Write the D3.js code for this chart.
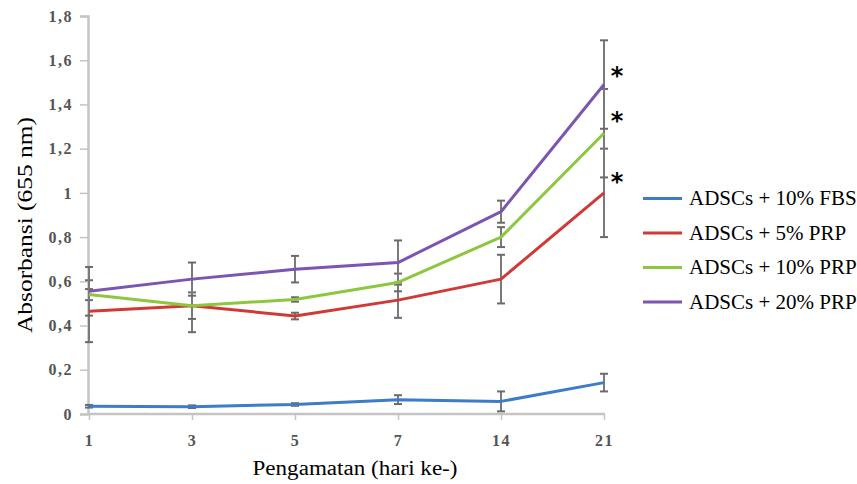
<!DOCTYPE html>
<html lang="id">
<head>
  <meta charset="UTF-8">
  <title>Absorbansi</title>
  <script src="https://d3js.org/d3.v7.min.js"></script>
  <style>
    body { margin: 0; background: #fff; }
    text { font-family: "Liberation Serif", "Times New Roman", serif; }
  </style>
</head>
<body>
  <div id="chart"></div>
  <script>

    // data
    var days = ["1", "3", "5", "7", "14", "21"];
    var yTicks = [0, 0.2, 0.4, 0.6, 0.8, 1, 1.2, 1.4, 1.6, 1.8];
    var yTickLabels = ["0", "0,2", "0,4", "0,6", "0,8", "1", "1,2", "1,4", "1,6", "1,8"];

    var seriesNames = ["ADSCs + 10% FBS", "ADSCs + 5% PRP", "ADSCs + 10% PRP", "ADSCs + 20% PRP"];
    var fbs10 = [0.035, 0.033, 0.043, 0.065, 0.057, 0.142];
    var prp5 = [0.465, 0.49, 0.443, 0.515, 0.61, 1.0];
    var prp10 = [0.54, 0.49, 0.518, 0.595, 0.8, 1.27];
    var prp20 = [0.555, 0.61, 0.655, 0.685, 0.915, 1.49];

    var fbs10Err = [0.006, 0.006, 0.006, 0.02, 0.045, 0.04];
    var prp5Err = [0.14, 0.12, 0.015, 0.08, 0.11, 0.2];
    var prp10Err = [0.025, 0.06, 0.01, 0.04, 0.045, 0.2];
    var prp20Err = [0.11, 0.075, 0.06, 0.1, 0.05, 0.2];

    // asterisks at day 21: which series, and how far above its end point
    var starSeries = [3, 2, 1];
    var starLift = [0.06, 0.08, 0.07];

    var colors = ["#3d7cc9", "#cf3a36", "#8dc63f", "#7b55b0"];

    var values = [fbs10, prp5, prp10, prp20];
    var errors = [fbs10Err, prp5Err, prp10Err, prp20Err];

    var width = 857, height = 484;

    var svg = d3.select("#chart")
      .append("svg")
      .attr("width", width)
      .attr("height", height);

    var x = d3.scalePoint()
      .domain(days)
      .range([89, 604]);

    var y = d3.scaleLinear()
      .domain([0, 1.8])
      .range([414, 16]);

    // Y axis
    var yAxis = svg.append("g")
      .attr("transform", "translate(88,0)")
      .call(d3.axisLeft(y)
        .tickValues(yTicks)
        .tickSize(8)
        .tickPadding(7)
        .tickFormat(function (d, i) { return yTickLabels[i]; }));
    yAxis.select(".domain").attr("stroke", "#c4c4c4").attr("stroke-width", 2.5);
    yAxis.selectAll(".tick line").attr("stroke", "#c4c4c4").attr("stroke-width", 1.5);
    yAxis.selectAll(".tick text")
      .attr("fill", "#555")
      .style("font-size", "16px")
      .style("font-weight", "bold")
      .style("letter-spacing", "1.5px")
      .style("font-family", "Liberation Serif, serif");

    // X axis
    var xAxis = svg.append("g")
      .attr("transform", "translate(0,414)")
      .call(d3.axisBottom(x).tickSize(6).tickPadding(15).tickSizeOuter(0));
    xAxis.select(".domain")
      .attr("d", "M88,0H605")
      .attr("stroke", "#c4c4c4").attr("stroke-width", 2.5);
    xAxis.selectAll(".tick line").attr("stroke", "#c4c4c4").attr("stroke-width", 1.5);
    xAxis.selectAll(".tick text")
      .attr("fill", "#555")
      .style("font-size", "16px")
      .style("font-weight", "bold")
      .style("letter-spacing", "1.5px")
      .style("font-family", "Liberation Serif, serif");

    // axis titles
    svg.append("text")
      .attr("x", 355)
      .attr("y", 475)
      .attr("text-anchor", "middle")
      .attr("textLength", 205)
      .attr("lengthAdjust", "spacingAndGlyphs")
      .style("font-size", "20px")
      .text("Pengamatan (hari ke-)");

    svg.append("text")
      .attr("transform", "translate(32,225) rotate(-90)")
      .attr("text-anchor", "middle")
      .attr("textLength", 216)
      .attr("lengthAdjust", "spacingAndGlyphs")
      .style("font-size", "20px")
      .text("Absorbansi (655 nm)");

    // error bars
    var errG = svg.append("g");
    values.forEach(function (vals, s) {
      vals.forEach(function (v, i) {
        var e = errors[s][i];
        var cx = x(days[i]);
        errG.append("line")
          .attr("x1", cx).attr("x2", cx)
          .attr("y1", y(v - e)).attr("y2", y(v + e))
          .attr("stroke", "#7a7a7a").attr("stroke-width", 2);
        [v - e, v + e].forEach(function (c) {
          errG.append("line")
            .attr("x1", cx - 4).attr("x2", cx + 4)
            .attr("y1", y(c)).attr("y2", y(c))
            .attr("stroke", "#6a6a6a").attr("stroke-width", 2);
        });
      });
    });

    // lines
    var line = d3.line()
      .x(function (d, i) { return x(days[i]); })
      .y(function (d) { return y(d); });

    values.forEach(function (vals, s) {
      svg.append("path")
        .datum(vals)
        .attr("fill", "none")
        .attr("stroke", colors[s])
        .attr("stroke-width", 3)
        .attr("stroke-linejoin", "round")
        .attr("d", line);
    });

    // asterisks
    starSeries.forEach(function (s, k) {
      var v = values[s][5] + starLift[k];
      svg.append("text")
        .attr("x", x("21") + 13)
        .attr("y", y(v) + 13)
        .attr("text-anchor", "middle")
        .style("font-size", "24px")
        .style("font-weight", "bold")
        .style("font-family", "DejaVu Sans, sans-serif")
        .text("*");
    });

    // legend
    var legend = svg.append("g");
    seriesNames.forEach(function (name, i) {
      var ly = 198.5 + i * 34.5;
      legend.append("line")
        .attr("x1", 643).attr("x2", 682)
        .attr("y1", ly).attr("y2", ly)
        .attr("stroke", colors[i])
        .attr("stroke-width", 3);
      legend.append("text")
        .attr("x", 689)
        .attr("y", ly + 6.5)
        .style("font-size", "21px")
        .text(name);
    });

  </script>
</body>
</html>
